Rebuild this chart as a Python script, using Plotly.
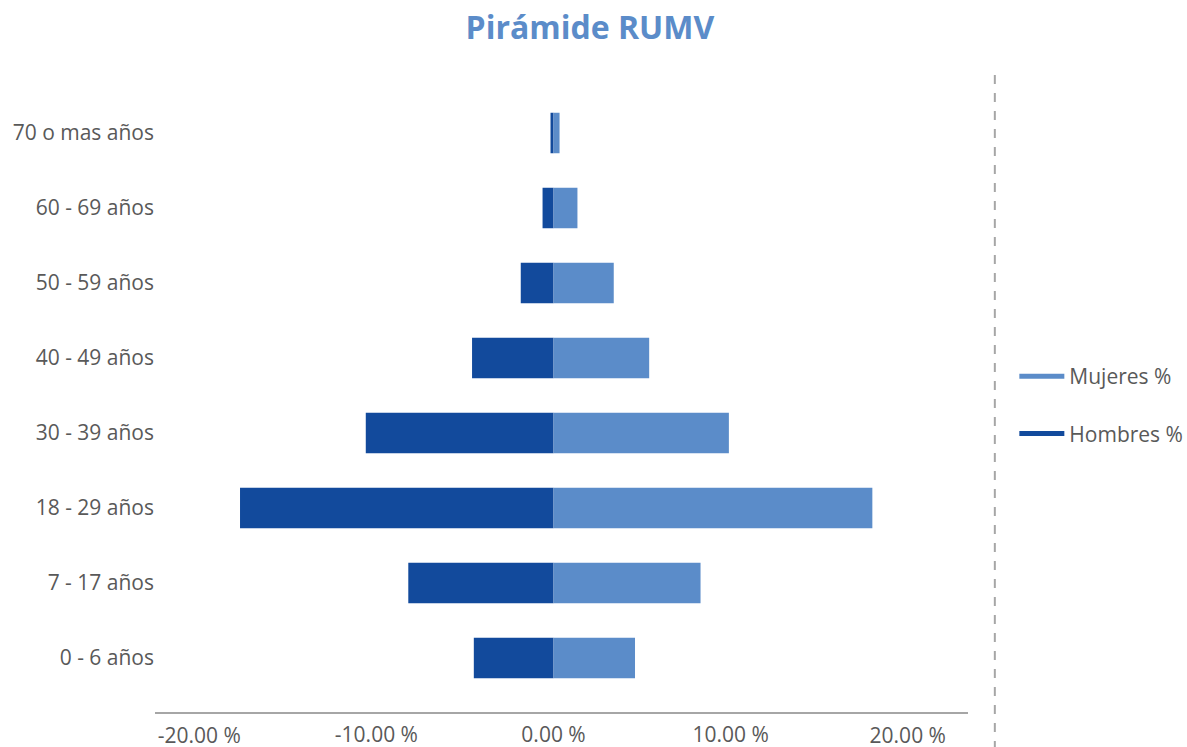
import plotly.graph_objects as go

categories = ["0 - 6 años", "7 - 17 años", "18 - 29 años", "30 - 39 años",
              "40 - 49 años", "50 - 59 años", "60 - 69 años", "70 o mas años"]
hombres = [-4.5, -8.2, -17.7, -10.6, -4.6, -1.85, -0.62, -0.17]
mujeres = [4.6, 8.3, 18.0, 9.9, 5.4, 3.4, 1.35, 0.34]
inner_ticks = [-10, 0, 10]
inner_labels = ["-10.00 %", "0.00 %", "10.00 %"]
outer_ticks = [-20, 20]
outer_labels = ["-20.00 %", "20.00 %"]

C_MUJ = "#5B8CC9"
C_HOM = "#124A9C"
TXT = "#595959"
FONT = "Open Sans, Noto Sans, sans-serif"
FS = 21

fig = go.Figure()
fig.add_trace(go.Bar(y=categories, x=hombres, orientation="h", marker_color=C_HOM,
                     marker_line_width=0, width=0.54, showlegend=False, name="Hombres %"))
fig.add_trace(go.Bar(y=categories, x=mujeres, orientation="h", marker_color=C_MUJ,
                     marker_line_width=0, width=0.54, showlegend=False, name="Mujeres %"))
# legend entries drawn as lines
fig.add_trace(go.Scatter(x=[None], y=[None], mode="lines", name="Mujeres %",
                         line=dict(color=C_MUJ, width=5), legendgroup="m", xaxis="x2"))
fig.add_trace(go.Scatter(x=[None], y=[None], mode="lines", name="Hombres %",
                         line=dict(color=C_HOM, width=5), legendgroup="h", xaxis="x2"))

xr = [-22.5, 23.4]
fig.update_layout(
    width=1187, height=747,
    margin=dict(l=155, r=219, t=79, b=35, autoexpand=False),
    paper_bgcolor="white", plot_bgcolor="white",
    barmode="relative",
    font=dict(family=FONT, size=FS, color=TXT),
    title=dict(text="<b>Pirámide RUMV</b>", x=0.497, xref="container", xanchor="center",
               y=0.9625, yanchor="middle",
               font=dict(family=FONT, size=32, color="#5B8CC9")),
    xaxis=dict(range=xr, tickvals=inner_ticks, ticktext=inner_labels,
               showgrid=False, zeroline=False, automargin=False,
               ticklabelstandoff=3,
               showline=True, linecolor="#A6A6A6", linewidth=2, ticks="",
               tickfont=dict(size=FS, color=TXT)),
    xaxis2=dict(range=xr, overlaying="x", side="bottom", anchor="y",
                tickvals=outer_ticks, ticktext=outer_labels, automargin=False,
                ticklabelstandoff=9, showgrid=False, zeroline=False,
                showline=False, ticks="", tickfont=dict(size=FS, color=TXT)),
    yaxis=dict(categoryorder="array", categoryarray=categories, automargin=False,
               range=[-0.72, 7.72], showgrid=False, zeroline=False,
               showline=False, ticks="", tickfont=dict(size=FS, color=TXT)),
    legend=dict(x=1.057, y=0.485, xanchor="left", yanchor="middle",
                tracegroupgap=27, itemwidth=45,
                font=dict(size=FS, color=TXT),
                bgcolor="rgba(0,0,0,0)"),
    shapes=[dict(type="line", xref="paper", yref="paper", x0=1.033, x1=1.033,
                 y0=-0.06, y1=1.015, line=dict(color="#A6A6A6", width=2, dash="dash"))],
)

fig.write_html("out.html", config={"displayModeBar": False},
               post_script="document.body.style.margin='0';document.body.style.overflow='hidden';")
